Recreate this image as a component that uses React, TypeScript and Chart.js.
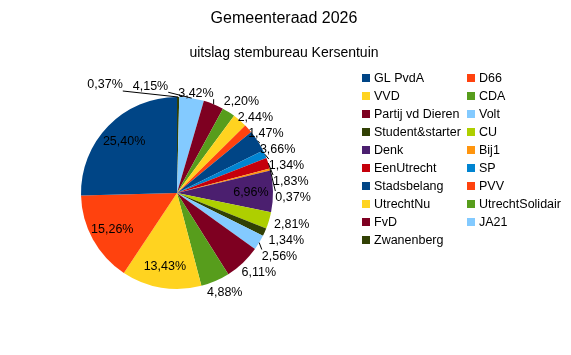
import React, { useEffect, useRef } from "react";
import { Chart, registerables } from "chart.js";

Chart.register(...registerables);

// ---- data ----
const chartTitle = "Gemeenteraad 2026";
const chartSubtitle = "uitslag stembureau Kersentuin";

const parties = [
  "GL PvdA", "D66", "VVD", "CDA", "Partij vd Dieren", "Volt", "Student&starter",
  "CU", "Denk", "Bij1", "EenUtrecht", "SP", "Stadsbelang", "PVV", "UtrechtNu",
  "UtrechtSolidair", "FvD", "JA21", "Zwanenberg",
];

const sharePct = [
  25.40, 15.26, 13.43, 4.88, 6.11, 2.56, 1.34,
  2.81, 6.96, 0.37, 1.83, 1.34, 3.66, 1.47, 2.44,
  2.20, 3.42, 4.15, 0.37,
];

const partyColors = [
  "#004586", "#ff420e", "#ffd320", "#579d1c", "#7e0021", "#83caff", "#314004",
  "#aecf00", "#4b1f6f", "#ff950e", "#c5000b", "#0084d1", "#004586", "#ff420e",
  "#ffd320", "#579d1c", "#7e0021", "#83caff", "#314004",
];

const FONT = '"Liberation Sans", Arial, Helvetica, sans-serif';
const fmtPct = (v: number) => v.toFixed(2).replace(".", ",") + "%";

// LibreOffice draws the slices counter-clockwise from the top; Chart.js goes
// clockwise, so the slices are handed over in reverse order.
const pieLabels = [...parties].reverse();
const pieValues = [...sharePct].reverse();
const pieColors = [...partyColors].reverse();

type Lbl = {
  text: string; w: number; cx: number; cy: number; nx: number; ny: number;
  ang: number; ex: number; ey: number; inside: boolean;
};

const decorPlugin = {
  id: "decor",
  afterDraw(chart: any) {
    const ctx: CanvasRenderingContext2D = chart.ctx;
    ctx.save();
    const midX = chart.width / 2 - 1.5;

    // titles
    ctx.fillStyle = "#000";
    ctx.textAlign = "center";
    ctx.textBaseline = "middle";
    ctx.font = `16px ${FONT}`;
    ctx.fillText(chartTitle, midX, 19);
    ctx.font = `14px ${FONT}`;
    ctx.fillText(chartSubtitle, midX, 53);

    // legend (two columns, row-major)
    ctx.font = `12.5px ${FONT}`;
    ctx.textAlign = "left";
    parties.forEach((p, i) => {
      const col = i % 2;
      const row = Math.floor(i / 2);
      const bx = 362 + col * 105;
      const cy = 78 + row * 18;
      ctx.fillStyle = partyColors[i];
      ctx.fillRect(bx, cy - 4, 8, 8);
      ctx.fillStyle = "#000";
      ctx.fillText(p, bx + 12, cy + 0.5);
    });

    // percentage labels
    const meta = chart.getDatasetMeta(0);
    const data = chart.data.datasets[0].data as number[];
    const H = 16;
    const gap = 6;
    const lbls: Lbl[] = [];
    meta.data.forEach((arc: any, i: number) => {
      const p = arc.getProps(["x", "y", "startAngle", "endAngle", "outerRadius"], true);
      const mid = (p.startAngle + p.endAngle) / 2;
      const c = Math.cos(mid), s = Math.sin(mid);
      const v = data[i];
      const text = fmtPct(v);
      const w = ctx.measureText(text).width;
      const r = p.outerRadius;
      const ang = (((mid * 180) / Math.PI + 90) % 360 + 360) % 360;
      let cx: number, cy: number;
      const inside = v >= 6.5;
      if (inside) {
        cx = p.x + c * r * 0.77;
        cy = p.y + s * r * 0.77;
      } else {
        const d = r + gap;
        cx = p.x + c * d + (c * w) / 2;
        cy = p.y + s * d + (s * 13) / 2;
      }
      lbls.push({ text, w, cx, cy, nx: cx, ny: cy, ang, ex: p.x + c * r, ey: p.y + s * r, inside });
    });

    const outside = lbls.filter((l) => !l.inside);
    const downGroup = outside.filter((l) => l.ang >= 30 && l.ang <= 180).sort((a, b) => a.ang - b.ang);
    const leftGroup = outside.filter((l) => l.ang < 30).sort((a, b) => b.ang - a.ang);
    const upGroup = outside.filter((l) => l.ang > 180 && l.ang <= 330).sort((a, b) => b.ang - a.ang);
    const rightGroup = outside.filter((l) => l.ang > 330).sort((a, b) => a.ang - b.ang);

    const placed: Lbl[] = [];
    const box = (l: Lbl) => ({ l: l.cx - l.w / 2, r: l.cx + l.w / 2, t: l.cy - H / 2, b: l.cy + H / 2 });
    const hit = (a: Lbl) => {
      const A = box(a);
      return placed.find((o) => {
        const B = box(o);
        return A.l < B.r && B.l < A.r && A.t < B.b && B.t < A.b;
      });
    };
    const place = (group: Lbl[], dir: "down" | "up" | "left" | "right") => {
      group.forEach((l) => {
        for (let k = 0; k < 40; k++) {
          const o = hit(l);
          if (!o) break;
          const B = box(o);
          if (dir === "down") l.cy = B.b + H / 2;
          else if (dir === "up") l.cy = B.t - H / 2;
          else if (dir === "left") l.cx = B.l - 10 - l.w / 2;
          else l.cx = B.r + 10 + l.w / 2;
        }
        placed.push(l);
      });
    };
    place(downGroup, "down");
    place(leftGroup, "left");
    place(upGroup, "up");
    place(rightGroup, "right");

    // leader lines
    ctx.strokeStyle = "#000";
    ctx.lineWidth = 1;
    outside.forEach((l) => {
      if (Math.hypot(l.cx - l.nx, l.cy - l.ny) > 3) {
        const B = { l: l.cx - l.w / 2, r: l.cx + l.w / 2, t: l.cy - 6.5, b: l.cy + 6.5 };
        const tx = Math.min(Math.max(l.ex, B.l), B.r);
        const ty = Math.min(Math.max(l.ey, B.t), B.b);
        ctx.beginPath();
        ctx.moveTo(l.ex, l.ey);
        ctx.lineTo(tx, ty);
        ctx.stroke();
      }
    });

    ctx.fillStyle = "#000";
    ctx.textAlign = "center";
    ctx.textBaseline = "middle";
    lbls.forEach((l) => {
      ctx.fillText(l.text, l.cx, l.cy + 0.5);
    });
    ctx.restore();
  },
};

export default function App() {
  const ref = useRef<HTMLCanvasElement | null>(null);
  useEffect(() => {
    if (!ref.current) return;
    const chart = new Chart(ref.current, {
      type: "pie",
      data: {
        labels: pieLabels,
        datasets: [
          {
            data: pieValues,
            backgroundColor: pieColors,
            borderWidth: 0,
            hoverOffset: 0,
          },
        ],
      },
      options: {
        responsive: false,
        animation: false,
        devicePixelRatio: 1,
        events: [],
        layout: { padding: { left: 81, right: 298, top: 97, bottom: 66 } },
        plugins: {
          legend: { display: false },
          title: { display: false },
          tooltip: { enabled: false },
        },
      },
      plugins: [decorPlugin],
    });
    return () => chart.destroy();
  }, []);
  return (
    <div style={{ position: "absolute", left: 0, top: 0, width: 571, height: 355, background: "#fff" }}>
      <canvas ref={ref} width={571} height={355} style={{ width: 571, height: 355, display: "block" }} />
    </div>
  );
}
